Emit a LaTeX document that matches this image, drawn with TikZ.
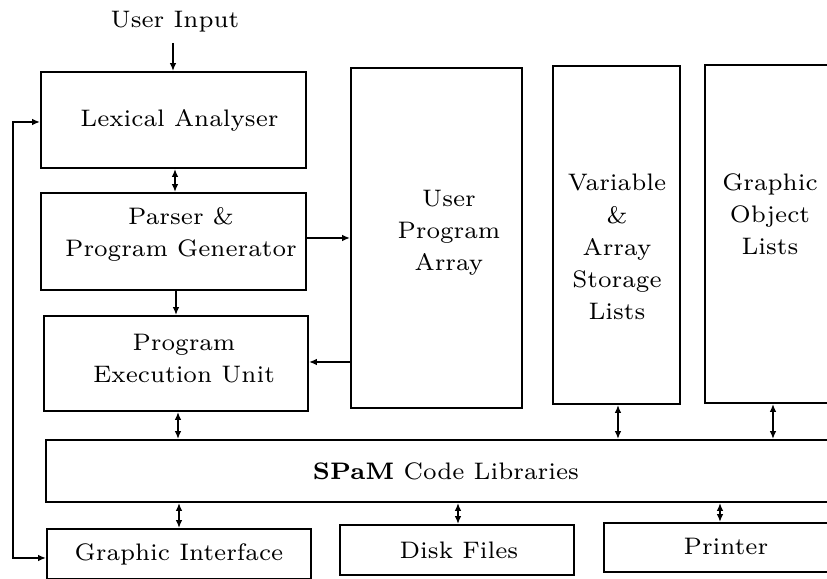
\documentclass[tikz,border=0pt]{standalone}
\usetikzlibrary{arrows.meta}
\begin{document}
\begin{tikzpicture}[x=0.293pt,y=-0.293pt,
  line width=0.55pt,
  every node/.style={font=\fontsize{7}{9.4}\selectfont, align=center, inner sep=0pt},
  box/.style n args={2}{draw, minimum width=#1*0.293pt, minimum height=#2*0.293pt},
  txt/.style={},
  tip/.style={-{Latex[length=2.3pt,width=1.9pt]}},
  dtip/.style={{Latex[length=2.3pt,width=1.9pt]}-{Latex[length=2.3pt,width=1.9pt]}}]
\useasboundingbox (0,0) rectangle (827,579);
\clip (0,0) rectangle (827,579);

% processing stages
\node[box={265}{96}] (lex) at (173.5,120) {};
\node[txt] (lexT) at (179.5,120) {Lexical Analyser};
\node[box={265}{97}] (parse) at (173.5,241.5) {};
\node[txt] (parseT) at (181,234) {Parser \&\\Program Generator};
\node[box={264}{95}] (exec) at (176,363.5) {};
\node[txt] (execT) at (184,359) {Program\\Execution Unit};

% storage areas
\node[box={171}{340}] (upa) at (436.5,238) {};
\node[txt] (upaT) at (449,233) {User\\Program\\Array};
\node[box={127}{338}] (var) at (616.5,235) {};
\node[txt] (varT) at (617,247) {Variable\\\&\\Array\\Storage\\Lists};
\node[box={130}{338}] (gol) at (770,234) {};
\node[txt] (golT) at (770,214) {Graphic\\Object\\Lists};

% library bar
\node[box={800}{62}] (spam) at (446,471) {\textbf{SPaM} Code Libraries};

% output devices
\node[box={264}{50}] (gi) at (179,554) {Graphic Interface};
\node[box={234}{50}] (disk) at (457,550) {};
\node[txt] (diskT) at (459,550) {Disk Files};
\node[box={232}{49}] (prn) at (720,547.5) {};
\node[txt] (prnT) at (726,546) {Printer};

% input
\node (inp) at (175,22) {User Input};
\coordinate (inpEnd) at (173,43);

% connectors
\draw[tip] (inpEnd) -- (inpEnd |- lex.north);
\draw[dtip] (lex.south -| 175,0) -- (parse.north -| 175,0);
\draw[tip] (parse.south -| 176,0) -- (exec.north -| 176,0);
\draw[tip] (parse.east |- 0,238) -- (upa.west |- 0,238);
\draw[tip] (upa.west |- 0,362) -- (exec.east |- 0,362);
\draw[dtip] (exec.south -| 178,0) -- (spam.north -| 178,0);
\draw[dtip] (var.south -| 618,0) -- (spam.north -| 618,0);
\draw[dtip] (gol.south -| 773,0) -- (spam.north -| 773,0);
\draw[dtip] (spam.south -| 179,0) -- (gi.north -| 179,0);
\draw[dtip] (spam.south -| 458,0) -- (disk.north -| 458,0);
\draw[dtip] (spam.south -| 720,0) -- (prn.north -| 720,0);

% feedback loop on the left
\coordinate (loopTop) at (13,122);
\coordinate (loopBot) at (13,558);
\draw[dtip] (lex.west |- loopTop) -- (loopTop) -- (loopBot) -- (gi.west |- loopBot);
\end{tikzpicture}
\end{document}
